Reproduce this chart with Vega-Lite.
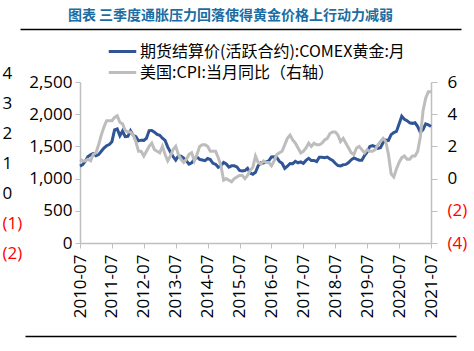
{
  "$schema": "https://vega.github.io/schema/vega-lite/v6.json",
  "width": 351,
  "height": 161,
  "autosize": "none",
  "padding": {"left": 80, "top": 82, "right": 43, "bottom": 108},
  "background": "white",
  "config": {"view": {"stroke": null}},
  "title": {
    "text": "图表 三季度通胀压力回落使得黄金价格上行动力减弱",
    "font": "Noto Sans CJK SC",
    "fontSize": 14,
    "fontWeight": "bold",
    "color": "#1B6DA3",
    "anchor": "middle",
    "frame": "group",
    "dx": -25,
    "offset": 5
  },
  "data": {
    "values": [
      {"d": "2010-07", "gold": 1193, "cpi": 1.2},
      {"d": "2010-08", "gold": 1216, "cpi": 1.1},
      {"d": "2010-09", "gold": 1271, "cpi": 1.1},
      {"d": "2010-10", "gold": 1342, "cpi": 1.2},
      {"d": "2010-11", "gold": 1370, "cpi": 1.1},
      {"d": "2010-12", "gold": 1391, "cpi": 1.5},
      {"d": "2011-01", "gold": 1356, "cpi": 1.6},
      {"d": "2011-02", "gold": 1373, "cpi": 2.1},
      {"d": "2011-03", "gold": 1424, "cpi": 2.7},
      {"d": "2011-04", "gold": 1474, "cpi": 3.2},
      {"d": "2011-05", "gold": 1510, "cpi": 3.6},
      {"d": "2011-06", "gold": 1529, "cpi": 3.6},
      {"d": "2011-07", "gold": 1573, "cpi": 3.6},
      {"d": "2011-08", "gold": 1756, "cpi": 3.8},
      {"d": "2011-09", "gold": 1772, "cpi": 3.9},
      {"d": "2011-10", "gold": 1665, "cpi": 3.5},
      {"d": "2011-11", "gold": 1739, "cpi": 3.4},
      {"d": "2011-12", "gold": 1652, "cpi": 3.0},
      {"d": "2012-01", "gold": 1656, "cpi": 2.9},
      {"d": "2012-02", "gold": 1743, "cpi": 2.9},
      {"d": "2012-03", "gold": 1674, "cpi": 2.7},
      {"d": "2012-04", "gold": 1650, "cpi": 2.3},
      {"d": "2012-05", "gold": 1586, "cpi": 1.7},
      {"d": "2012-06", "gold": 1597, "cpi": 1.7},
      {"d": "2012-07", "gold": 1594, "cpi": 1.4},
      {"d": "2012-08", "gold": 1626, "cpi": 1.7},
      {"d": "2012-09", "gold": 1745, "cpi": 2.0},
      {"d": "2012-10", "gold": 1747, "cpi": 2.2},
      {"d": "2012-11", "gold": 1722, "cpi": 1.8},
      {"d": "2012-12", "gold": 1685, "cpi": 1.7},
      {"d": "2013-01", "gold": 1672, "cpi": 1.6},
      {"d": "2013-02", "gold": 1628, "cpi": 2.0},
      {"d": "2013-03", "gold": 1593, "cpi": 1.5},
      {"d": "2013-04", "gold": 1488, "cpi": 1.1},
      {"d": "2013-05", "gold": 1414, "cpi": 1.4},
      {"d": "2013-06", "gold": 1343, "cpi": 1.8},
      {"d": "2013-07", "gold": 1286, "cpi": 2.0},
      {"d": "2013-08", "gold": 1352, "cpi": 1.5},
      {"d": "2013-09", "gold": 1349, "cpi": 1.2},
      {"d": "2013-10", "gold": 1317, "cpi": 1.0},
      {"d": "2013-11", "gold": 1276, "cpi": 1.2},
      {"d": "2013-12", "gold": 1225, "cpi": 1.5},
      {"d": "2014-01", "gold": 1244, "cpi": 1.6},
      {"d": "2014-02", "gold": 1300, "cpi": 1.1},
      {"d": "2014-03", "gold": 1336, "cpi": 1.5},
      {"d": "2014-04", "gold": 1299, "cpi": 2.0},
      {"d": "2014-05", "gold": 1289, "cpi": 2.1},
      {"d": "2014-06", "gold": 1279, "cpi": 2.1},
      {"d": "2014-07", "gold": 1311, "cpi": 2.0},
      {"d": "2014-08", "gold": 1295, "cpi": 1.7},
      {"d": "2014-09", "gold": 1237, "cpi": 1.7},
      {"d": "2014-10", "gold": 1223, "cpi": 1.7},
      {"d": "2014-11", "gold": 1175, "cpi": 1.3},
      {"d": "2014-12", "gold": 1201, "cpi": 0.8},
      {"d": "2015-01", "gold": 1251, "cpi": -0.1},
      {"d": "2015-02", "gold": 1227, "cpi": 0.0},
      {"d": "2015-03", "gold": 1179, "cpi": -0.1},
      {"d": "2015-04", "gold": 1199, "cpi": -0.2},
      {"d": "2015-05", "gold": 1199, "cpi": 0.0},
      {"d": "2015-06", "gold": 1182, "cpi": 0.1},
      {"d": "2015-07", "gold": 1128, "cpi": 0.2},
      {"d": "2015-08", "gold": 1118, "cpi": 0.2},
      {"d": "2015-09", "gold": 1125, "cpi": 0.0},
      {"d": "2015-10", "gold": 1159, "cpi": 0.2},
      {"d": "2015-11", "gold": 1086, "cpi": 0.5},
      {"d": "2015-12", "gold": 1068, "cpi": 0.7},
      {"d": "2016-01", "gold": 1098, "cpi": 1.4},
      {"d": "2016-02", "gold": 1200, "cpi": 1.0},
      {"d": "2016-03", "gold": 1245, "cpi": 0.9},
      {"d": "2016-04", "gold": 1242, "cpi": 1.1},
      {"d": "2016-05", "gold": 1261, "cpi": 1.0},
      {"d": "2016-06", "gold": 1276, "cpi": 1.0},
      {"d": "2016-07", "gold": 1337, "cpi": 0.8},
      {"d": "2016-08", "gold": 1340, "cpi": 1.1},
      {"d": "2016-09", "gold": 1327, "cpi": 1.5},
      {"d": "2016-10", "gold": 1267, "cpi": 1.6},
      {"d": "2016-11", "gold": 1238, "cpi": 1.7},
      {"d": "2016-12", "gold": 1157, "cpi": 2.1},
      {"d": "2017-01", "gold": 1192, "cpi": 2.5},
      {"d": "2017-02", "gold": 1234, "cpi": 2.7},
      {"d": "2017-03", "gold": 1231, "cpi": 2.4},
      {"d": "2017-04", "gold": 1267, "cpi": 2.2},
      {"d": "2017-05", "gold": 1246, "cpi": 1.9},
      {"d": "2017-06", "gold": 1260, "cpi": 1.6},
      {"d": "2017-07", "gold": 1237, "cpi": 1.7},
      {"d": "2017-08", "gold": 1283, "cpi": 1.9},
      {"d": "2017-09", "gold": 1314, "cpi": 2.2},
      {"d": "2017-10", "gold": 1280, "cpi": 2.0},
      {"d": "2017-11", "gold": 1282, "cpi": 2.2},
      {"d": "2017-12", "gold": 1265, "cpi": 2.1},
      {"d": "2018-01", "gold": 1331, "cpi": 2.1},
      {"d": "2018-02", "gold": 1331, "cpi": 2.2},
      {"d": "2018-03", "gold": 1325, "cpi": 2.4},
      {"d": "2018-04", "gold": 1335, "cpi": 2.5},
      {"d": "2018-05", "gold": 1304, "cpi": 2.8},
      {"d": "2018-06", "gold": 1282, "cpi": 2.9},
      {"d": "2018-07", "gold": 1238, "cpi": 2.9},
      {"d": "2018-08", "gold": 1202, "cpi": 2.7},
      {"d": "2018-09", "gold": 1198, "cpi": 2.3},
      {"d": "2018-10", "gold": 1215, "cpi": 2.5},
      {"d": "2018-11", "gold": 1221, "cpi": 2.2},
      {"d": "2018-12", "gold": 1250, "cpi": 1.9},
      {"d": "2019-01", "gold": 1292, "cpi": 1.6},
      {"d": "2019-02", "gold": 1320, "cpi": 1.5},
      {"d": "2019-03", "gold": 1301, "cpi": 1.9},
      {"d": "2019-04", "gold": 1286, "cpi": 2.0},
      {"d": "2019-05", "gold": 1284, "cpi": 1.8},
      {"d": "2019-06", "gold": 1359, "cpi": 1.6},
      {"d": "2019-07", "gold": 1413, "cpi": 1.8},
      {"d": "2019-08", "gold": 1500, "cpi": 1.7},
      {"d": "2019-09", "gold": 1511, "cpi": 1.7},
      {"d": "2019-10", "gold": 1495, "cpi": 1.8},
      {"d": "2019-11", "gold": 1470, "cpi": 2.1},
      {"d": "2019-12", "gold": 1479, "cpi": 2.3},
      {"d": "2020-01", "gold": 1561, "cpi": 2.5},
      {"d": "2020-02", "gold": 1597, "cpi": 2.3},
      {"d": "2020-03", "gold": 1592, "cpi": 1.5},
      {"d": "2020-04", "gold": 1683, "cpi": 0.3},
      {"d": "2020-05", "gold": 1716, "cpi": 0.1},
      {"d": "2020-06", "gold": 1732, "cpi": 0.6},
      {"d": "2020-07", "gold": 1847, "cpi": 1.0},
      {"d": "2020-08", "gold": 1969, "cpi": 1.3},
      {"d": "2020-09", "gold": 1922, "cpi": 1.4},
      {"d": "2020-10", "gold": 1900, "cpi": 1.2},
      {"d": "2020-11", "gold": 1866, "cpi": 1.2},
      {"d": "2020-12", "gold": 1858, "cpi": 1.4},
      {"d": "2021-01", "gold": 1867, "cpi": 1.4},
      {"d": "2021-02", "gold": 1808, "cpi": 1.7},
      {"d": "2021-03", "gold": 1718, "cpi": 2.6},
      {"d": "2021-04", "gold": 1760, "cpi": 4.2},
      {"d": "2021-05", "gold": 1850, "cpi": 5.0},
      {"d": "2021-06", "gold": 1835, "cpi": 5.4},
      {"d": "2021-07", "gold": 1808, "cpi": 5.4}
    ]
  },
  "layer": [
    {
      "mark": {"type": "line", "strokeWidth": 3},
      "encoding": {
        "x": {
          "field": "d", "type": "ordinal",
          "scale": {"type": "point", "padding": 0},
          "axis": {
            "title": null,
            "values": ["2010-07","2011-07","2012-07","2013-07","2014-07","2015-07","2016-07","2017-07","2018-07","2019-07","2020-07","2021-07"],
            "labelAngle": 270,
            "labelFont": "Open Sans", "labelFontSize": 17, "labelColor": "#000000",
            "labelPadding": 6, "tickSize": 5,
            "domainColor": "#BFBFBF", "tickColor": "#BFBFBF", "domainWidth": 1.5,
            "grid": false
          }
        },
        "y": {
          "field": "gold", "type": "quantitative",
          "scale": {"domain": [0, 2500], "nice": false, "zero": false},
          "axis": {
            "title": null,
            "values": [0, 500, 1000, 1500, 2000, 2500],
            "format": ",d",
            "labelFont": "Open Sans", "labelFontSize": 17, "labelColor": "#000000",
            "labelPadding": 3, "tickSize": 5,
            "domainColor": "#BFBFBF", "tickColor": "#BFBFBF", "domainWidth": 1.5,
            "grid": false
          }
        },
        "color": {
          "datum": "期货结算价(活跃合约):COMEX黄金:月",
          "type": "nominal",
          "scale": {
            "domain": ["期货结算价(活跃合约):COMEX黄金:月", "美国:CPI:当月同比（右轴）"],
            "range": ["#2F5597", "#BDBDBD"]
          },
          "legend": {
            "orient": "none", "legendX": 30, "legendY": -43,
            "direction": "vertical", "title": null, "padding": 0,
            "symbolType": "M-1.25,0H1.25", "symbolSize": 484, "symbolStrokeWidth": 3,
            "labelFont": "Noto Sans CJK SC", "labelFontSize": 16, "labelColor": "#000000",
            "labelLimit": 500, "labelOffset": 5, "rowPadding": 0
          }
        }
      }
    },
    {
      "mark": {"type": "line", "strokeWidth": 3},
      "encoding": {
        "x": {"field": "d", "type": "ordinal", "scale": {"type": "point", "padding": 0}, "axis": null},
        "y": {
          "field": "cpi", "type": "quantitative",
          "scale": {"domain": [-4, 6], "nice": false, "zero": false},
          "axis": {
            "orient": "right", "title": null,
            "values": [-4, -2, 0, 2, 4, 6],
            "labelExpr": "datum.value < 0 ? '(' + format(-datum.value, 'd') + ')' : format(datum.value, 'd')",
            "labelColor": {"condition": {"test": "datum.value < 0", "value": "#FF0000"}, "value": "#000000"},
            "labelFont": "Open Sans", "labelFontSize": 17,
            "labelPadding": 10, "tickSize": 6,
            "domainColor": "#BFBFBF", "tickColor": "#BFBFBF", "domainWidth": 1.5,
            "grid": false
          }
        },
        "color": {"datum": "美国:CPI:当月同比（右轴）", "type": "nominal"}
      }
    },
    {
      "mark": {"type": "point", "opacity": 0},
      "encoding": {
        "y": {
          "field": "cpi", "type": "quantitative",
          "scale": {"domain": [-2, 4], "range": [171, -9], "nice": false, "zero": false},
          "axis": {
            "orient": "left", "title": null,
            "values": [-2, -1, 0, 1, 2, 3, 4],
            "labelExpr": "datum.value < 0 ? '(' + format(-datum.value, 'd') + ')' : format(datum.value, 'd')",
            "labelColor": {"condition": {"test": "datum.value < 0", "value": "#FF0000"}, "value": "#000000"},
            "labelFont": "Open Sans", "labelFontSize": 17,
            "labelAlign": "left", "labelPadding": 78,
            "domain": false, "ticks": false, "tickSize": 0, "grid": false
          }
        }
      }
    },
    {
      "mark": {"type": "point", "opacity": 0},
      "encoding": {
        "x": {
          "field": "d", "type": "ordinal",
          "scale": {"type": "point", "padding": 0, "range": [-60, 381]},
          "axis": {"orient": "top", "offset": 53, "title": null, "labels": false, "ticks": false, "grid": false, "domainColor": "#000000", "domainWidth": 1.5}
        }
      }
    },
    {
      "mark": {"type": "point", "opacity": 0},
      "encoding": {
        "x": {
          "field": "d", "type": "ordinal",
          "scale": {"type": "point", "padding": 0, "range": [-55, 376]},
          "axis": {"orient": "bottom", "offset": 93, "title": null, "labels": false, "ticks": false, "grid": false, "domainColor": "#000000", "domainWidth": 1.5}
        }
      }
    }
  ],
  "resolve": {
    "scale": {"x": "independent", "y": "independent"},
    "axis": {"x": "independent", "y": "independent"}
  }
}
